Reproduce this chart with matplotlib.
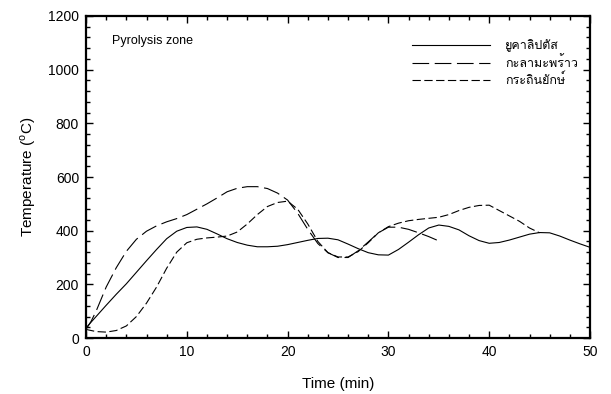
import matplotlib
matplotlib.use("Agg")
import matplotlib.pyplot as plt
from matplotlib import font_manager
from matplotlib.ft2font import FT2Font
from matplotlib.ticker import MultipleLocator

# data (time in min, temperature in deg C)
t_euca = [0, 1, 2, 3, 4, 5, 6, 7, 8, 9, 10, 11, 12, 13, 14, 15, 16, 17, 18, 19, 20,
          21, 22, 23, 24, 25, 26, 27, 28, 29, 30, 31, 32, 33, 34, 35, 36, 37, 38, 39, 40,
          41, 42, 43, 44, 45, 46, 47, 48, 49, 50]
T_euca = [38, 80, 122, 163, 202, 245, 288, 330, 370, 398, 412, 414, 405, 388, 370, 356, 346, 340, 340, 342, 348,
          356, 364, 371, 372, 366, 350, 333, 318, 310, 309, 330, 357, 385, 410, 421, 416, 403, 381, 363, 353,
          356, 365, 376, 387, 393, 392, 380, 365, 351, 338]

t_coco = [0, 0.5, 1, 2, 3, 4, 5, 6, 7, 8, 9, 10, 11, 12, 13, 14, 15, 16, 17, 18, 19, 20,
          21, 22, 23, 24, 25, 26, 27, 28, 29, 30, 31, 32, 33, 34, 34.8]
T_coco = [32, 62, 100, 190, 262, 323, 368, 398, 418, 433, 445, 460, 480, 500, 522, 545, 558, 564, 564, 557, 540, 514,
          465, 405, 352, 318, 300, 300, 325, 358, 392, 413, 413, 405, 392, 378, 365]

t_leuc = [0, 1, 2, 3, 4, 5, 6, 7, 8, 9, 10, 11, 12, 13, 14, 15, 16, 17, 18, 19, 20,
          21, 22, 23, 24, 25, 26, 27, 28, 29, 30, 31, 32, 33, 34, 35, 36, 37, 38, 39, 40,
          41, 42, 43, 44, 45]
T_leuc = [32, 24, 22, 28, 45, 80, 130, 190, 260, 320, 355, 368, 373, 376, 380, 395, 425, 460, 490, 505, 510,
          480, 425, 360, 318, 302, 302, 322, 355, 392, 415, 428, 437, 442, 446, 450, 460, 475, 487, 494, 495,
          475, 455, 435, 410, 392]

labels = ["ยูคาลิปตัส", "กะลามะพร้าว", "กระถินยักษ์"]


def thai_fonts():
    names = []
    for f in font_manager.fontManager.ttflist:
        try:
            if 0x0E22 in FT2Font(f.fname).get_charmap() and f.name not in names:
                names.append(f.name)
        except Exception:
            pass
    return names


plt.rcParams['font.family'] = ['Liberation Sans', 'DejaVu Sans']
plt.rcParams['mathtext.fontset'] = 'custom'
plt.rcParams['mathtext.rm'] = 'Liberation Sans'
plt.rcParams['lines.scale_dashes'] = False
thai_family = thai_fonts() + ['Liberation Sans', 'DejaVu Sans']

fig = plt.figure(figsize=(6.11, 3.94), dpi=100)
ax = fig.add_axes([0.1408, 0.1421, 0.8248, 0.8173])

lw = 0.8
ax.plot(t_euca, T_euca, color='black', lw=lw, label=labels[0])
ax.plot(t_coco, T_coco, color='black', lw=lw, dashes=(12, 4), label=labels[1])
ax.plot(t_leuc, T_leuc, color='black', lw=lw, dashes=(6, 2.5), label=labels[2])

ax.set_xlim(0, 50)
ax.set_ylim(0, 1200)
ax.xaxis.set_major_locator(MultipleLocator(10))
ax.xaxis.set_minor_locator(MultipleLocator(2))
ax.yaxis.set_major_locator(MultipleLocator(200))
ax.yaxis.set_minor_locator(MultipleLocator(40))
ax.tick_params(which='both', direction='in', top=True, right=True, labelsize=10, width=1, pad=5)
ax.tick_params(which='major', length=5)
ax.tick_params(which='minor', length=3)
for s in ax.spines.values():
    s.set_linewidth(1.6)

ax.set_xlabel("Time (min)", fontsize=11, labelpad=13)
ax.set_ylabel(r"Temperature ($^{\mathrm{o}}$C)", fontsize=11, labelpad=7)

ax.text(0.052, 0.922, "Pyrolysis zone", transform=ax.transAxes, fontsize=9, va='center')

leg = ax.legend(loc='upper right', bbox_to_anchor=(0.998, 0.962), frameon=False,
                handlelength=6.2, handletextpad=1.2, labelspacing=0.3,
                prop={'family': thai_family, 'size': 9})

fig.savefig("out.png", dpi=100)
